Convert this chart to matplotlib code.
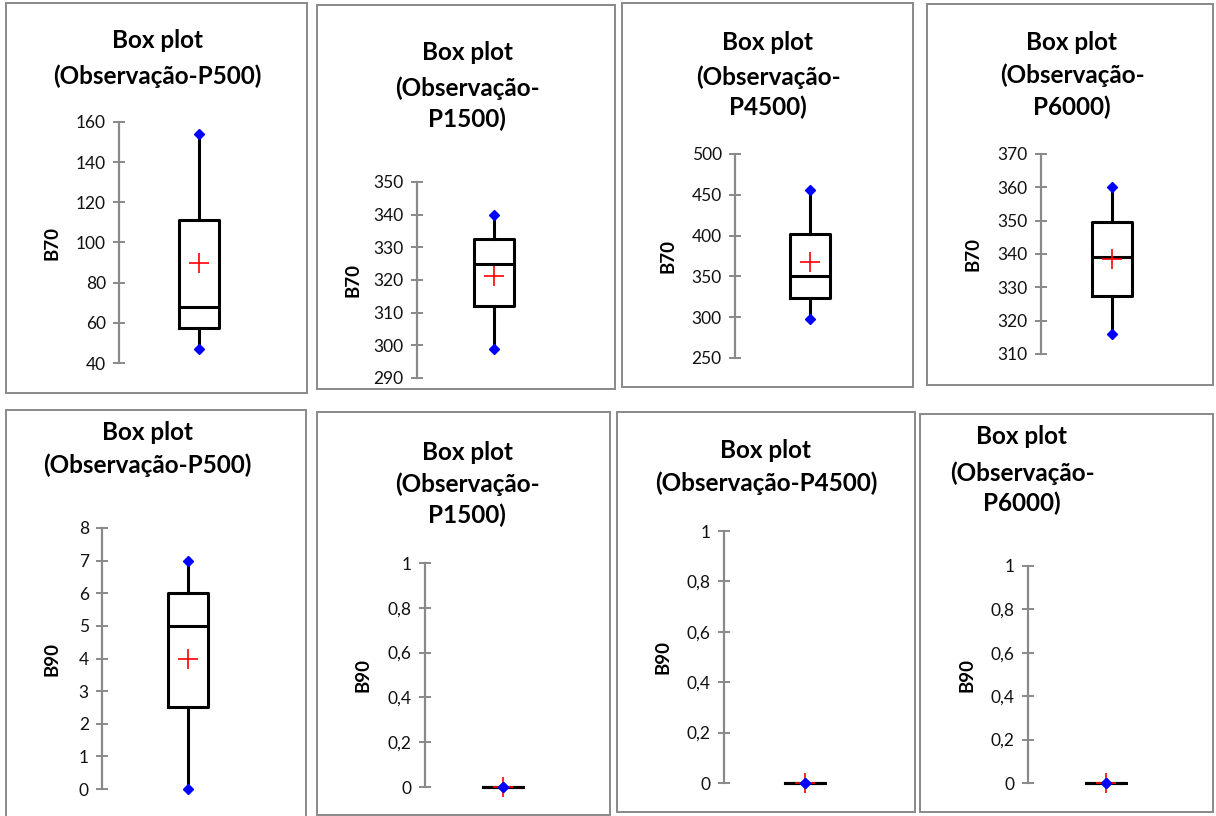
import matplotlib
matplotlib.use("Agg")
import matplotlib.pyplot as plt
from matplotlib.patches import Rectangle
from matplotlib.ticker import FuncFormatter, MultipleLocator

plt.rcParams['font.family'] = ['Lato', 'DejaVu Sans']

W, H = 1216, 816

# ---- data -------------------------------------------------------------
panel_names = ["P500", "P1500", "P4500", "P6000"]

# B70 summary statistics per observation period
b70_min = [47, 299, 298, 316]
b70_q1 = [57.5, 312, 323, 327.5]
b70_median = [68, 325, 350, 339]
b70_q3 = [111, 332.5, 402, 349.5]
b70_max = [154, 340, 456, 360]
b70_mean = [90, 321.3, 368, 338.5]
b70_axis = [(40, 160, 20), (290, 350, 10), (250, 500, 50), (310, 370, 10)]

# B90 summary statistics per observation period
b90_min = [0, 0, 0, 0]
b90_q1 = [2.5, 0, 0, 0]
b90_median = [5, 0, 0, 0]
b90_q3 = [6, 0, 0, 0]
b90_max = [7, 0, 0, 0]
b90_mean = [4, 0, 0, 0]
b90_axis = [(0, 8, 1), (0, 1, 0.2), (0, 1, 0.2), (0, 1, 0.2)]

b70_titles = [["Box plot", "(Observação-P500)"],
              ["Box plot", "(Observação-", "P1500)"],
              ["Box plot", "(Observação-", "P4500)"],
              ["Box plot", "(Observação-", "P6000)"]]
b90_titles = [["Box plot", "(Observação-P500)"],
              ["Box plot", "(Observação-", "P1500)"],
              ["Box plot", "(Observação-P4500)"],
              ["Box plot", "(Observação-", "P6000)"]]

# ---- layout (pixels) --------------------------------------------------
# frame: left, top, right, bottom
frames = [(6, 3, 307, 393), (317, 5, 615, 389), (622, 3, 913, 387), (927, 4, 1213, 385),
          (6, 410, 306, 830), (317, 412, 610, 815), (617, 412, 915, 812), (920, 414, 1213, 812)]
axis_x = [119, 417, 735, 1041, 102, 425, 724, 1028]
box_x = [199, 494, 810, 1112, 188, 503, 805, 1106]
y_top = [122, 182, 154, 154, 528, 563, 531, 566]
y_bot = [363, 378, 358, 354, 789, 787, 783, 783]
title_x = [157, 467, 768, 1072, 147, 467, 766, 1022]
title_y = [[41, 76], [52, 88, 119], [42, 77, 107], [42, 75, 107],
           [432, 465], [452, 484, 515], [450, 483], [437, 473, 503]]
label_x = [52, 353, 668, 973, 52, 363, 663, 967]

GRAY = "#898989"

fig = plt.figure(figsize=(W / 100, H / 100), dpi=100)


def fmt(v, _pos):
    if abs(v - round(v)) < 1e-9:
        return f"{int(round(v))}"
    return f"{v:.1f}".replace(".", ",")


def draw_panel(i, stats, axis_spec, title_lines, ylabel):
    l, t, r, b = frames[i]
    fig.patches.append(Rectangle((l / W, 1 - b / H), (r - l) / W, (b - t) / H,
                                 transform=fig.transFigure, fill=False,
                                 edgecolor=GRAY, linewidth=1.4, zorder=0))
    half = box_x[i] - axis_x[i]
    ax = fig.add_axes([axis_x[i] / W, 1 - y_bot[i] / H, 2 * half / W,
                       (y_bot[i] - y_top[i]) / H])
    ax.patch.set_alpha(0)

    mn, q1, med, q3, mx, mean = stats
    bstats = [dict(med=med, q1=q1, q3=q3, whislo=mn, whishi=mx, mean=mean, fliers=[])]
    art = ax.bxp(bstats, positions=[1], widths=[40 / half], showcaps=False,
                 showmeans=True, showfliers=False, patch_artist=False,
                 manage_ticks=False,
                 boxprops=dict(color="black", linewidth=2.2),
                 whiskerprops=dict(color="black", linewidth=2.2),
                 medianprops=dict(color="black", linewidth=2.2),
                 meanprops=dict(marker="+", markeredgecolor="red",
                                markersize=14, markeredgewidth=1.2))
    for group in art.values():
        for a in group:
            a.set_clip_on(False)
    for a in art["means"]:
        a.set_zorder(4)
    ax.plot([1, 1], [mn, mx], linestyle="none", marker="D", color="#0000ff",
            markersize=5.5, zorder=5, clip_on=False)

    lo, hi, step = axis_spec
    ax.set_ylim(lo, hi)
    ax.set_xlim(0, 2)
    ax.yaxis.set_major_locator(MultipleLocator(step))
    ax.yaxis.set_major_formatter(FuncFormatter(fmt))
    ax.set_xticks([])
    for s in ("top", "right", "bottom"):
        ax.spines[s].set_visible(False)
    ax.spines["left"].set_color(GRAY)
    ax.spines["left"].set_linewidth(1.6)
    ax.tick_params(axis="y", direction="inout", length=8.6, width=1.4,
                   color=GRAY, labelsize=12.5, labelcolor="#111111", pad=5.2)

    for line, yy in zip(title_lines, title_y[i]):
        fig.text(title_x[i] / W, 1 - yy / H, line, ha="center", va="center",
                 fontsize=17.5, fontweight="bold", color="black")
    fig.text(label_x[i] / W, 1 - (y_top[i] + y_bot[i]) / 2 / H, ylabel,
             rotation=90, ha="center", va="center", fontsize=13.5,
             fontweight="bold", color="black")


for k in range(4):
    draw_panel(k, (b70_min[k], b70_q1[k], b70_median[k], b70_q3[k], b70_max[k], b70_mean[k]),
               b70_axis[k], b70_titles[k], "B70")
    draw_panel(k + 4, (b90_min[k], b90_q1[k], b90_median[k], b90_q3[k], b90_max[k], b90_mean[k]),
               b90_axis[k], b90_titles[k], "B90")

fig.savefig("out.png", dpi=100, facecolor="white")
